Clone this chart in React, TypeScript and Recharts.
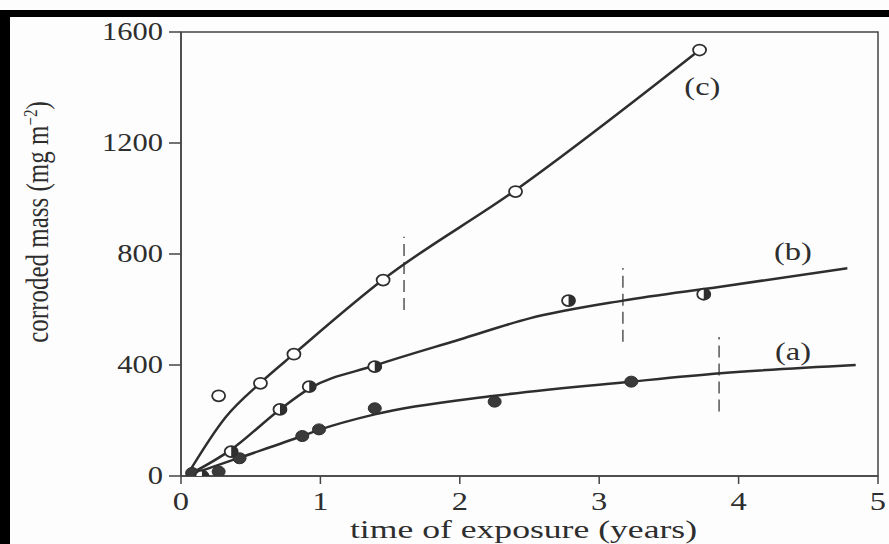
import React from 'react';
import {
  ComposedChart,
  Line,
  Scatter,
  XAxis,
  YAxis,
  ReferenceArea,
  ReferenceLine,
} from 'recharts';

// fitted curves (years, mg m^-2)
const curveA = [
  { x: 0.04, y: 0 }, { x: 0.42, y: 66 }, { x: 0.87, y: 144 }, { x: 0.99, y: 166 },
  { x: 1.39, y: 222 }, { x: 2.25, y: 289 }, { x: 3.23, y: 340 }, { x: 3.87, y: 370 },
  { x: 4.84, y: 400 },
];
const curveB = [
  { x: 0.04, y: 0 }, { x: 0.36, y: 95 }, { x: 0.71, y: 240 }, { x: 0.92, y: 315 },
  { x: 1.39, y: 398 }, { x: 2.0, y: 492 }, { x: 2.5, y: 568 }, { x: 3.17, y: 632 },
  { x: 3.87, y: 682 }, { x: 4.78, y: 749 },
];
const curveC = [
  { x: 0.04, y: 0 }, { x: 0.32, y: 212 }, { x: 0.57, y: 336 }, { x: 0.81, y: 440 },
  { x: 1.45, y: 708 }, { x: 2.4, y: 1030 }, { x: 3.72, y: 1535 },
];

// measured points
const pointsA = [
  { x: 0.08, y: 11 }, { x: 0.27, y: 16 }, { x: 0.42, y: 64 }, { x: 0.87, y: 144 },
  { x: 0.99, y: 168 }, { x: 1.39, y: 244 }, { x: 2.25, y: 268 }, { x: 3.23, y: 340 },
];
const pointsB = [
  { x: 0.15, y: 0 }, { x: 0.36, y: 88 }, { x: 0.71, y: 240 }, { x: 0.92, y: 322 },
  { x: 1.39, y: 394 }, { x: 2.78, y: 632 }, { x: 3.75, y: 655 },
];
const pointsC = [
  { x: 0.27, y: 289 }, { x: 0.57, y: 334 }, { x: 0.81, y: 439 }, { x: 1.45, y: 706 },
  { x: 2.4, y: 1025 }, { x: 3.72, y: 1535 },
];

// dashed markers on each curve
const breaks = [
  { x: 1.6, y1: 598, y2: 862 },
  { x: 3.17, y1: 484, y2: 750 },
  { x: 3.86, y1: 232, y2: 501 },
];

const curveLabels = [
  { x: 3.74, y: 1403, name: '(c)' },
  { x: 4.39, y: 808, name: '(b)' },
  { x: 4.39, y: 448, name: '(a)' },
];

const xTicks = [0, 1, 2, 3, 4, 5];
const yTicks = [0, 400, 800, 1200, 1600];

const FONT = '"Liberation Serif", "DejaVu Serif", serif';
const INK = '#2e2e2e';
const STRETCH = 1.3;

const OpenDot = ({ cx, cy }: any) => (
  <ellipse cx={cx} cy={cy} rx={6.5} ry={5.5} fill="#fff" stroke={INK} strokeWidth={1.8} />
);

const HalfDot = ({ cx, cy }: any) => (
  <g>
    <ellipse cx={cx} cy={cy} rx={6.5} ry={5.5} fill="#fff" stroke={INK} strokeWidth={1.8} />
    <path d={`M ${cx} ${cy - 5.5} A 6.5 5.5 0 0 1 ${cx} ${cy + 5.5} Z`} fill={INK} />
  </g>
);

const FullDot = ({ cx, cy }: any) => (
  <ellipse cx={cx} cy={cy} rx={6.5} ry={5.5} fill="#3a3a3a" stroke={INK} strokeWidth={1} />
);

const CurveLabel = ({ cx, cy, payload }: any) => (
  <g transform={`translate(${cx},${cy}) scale(${STRETCH},1)`}>
    <text textAnchor="middle" y={8} fontFamily={FONT} fontSize={25} fill={INK}>
      {payload.name}
    </text>
  </g>
);

const XTick = ({ x, y, payload }: any) => (
  <g transform={`translate(${x},${y}) scale(${STRETCH},1)`}>
    <text textAnchor="middle" y={24} fontFamily={FONT} fontSize={25} fill={INK}>
      {payload.value}
    </text>
  </g>
);

const YTick = ({ x, y, payload }: any) => (
  <g transform={`translate(${x - 4},${y}) scale(1.22,1)`}>
    <text textAnchor="end" y={8} fontFamily={FONT} fontSize={25} fill={INK}>
      {payload.value}
    </text>
  </g>
);

const XTitle = ({ viewBox }: any) => (
  <g transform={`translate(${viewBox.x + viewBox.width / 2 - 6},${viewBox.y + 62}) scale(1.37,1)`}>
    <text textAnchor="middle" fontFamily={FONT} fontSize={26} fill={INK}>
      time of exposure (years)
    </text>
  </g>
);

const YTitle = () => (
  <g transform={`translate(38,222) rotate(-90) scale(1,${STRETCH})`}>
    <text textAnchor="middle" y={8} fontFamily={FONT} fontSize={25} fill={INK}>
      corroded mass (mg m
      <tspan dy={-9} fontSize={15}>−2</tspan>
      <tspan dy={9}>)</tspan>
    </text>
  </g>
);

export default function App() {
  return (
    <div style={{ position: 'absolute', left: 0, top: 0, width: 889, height: 544, background: '#fdfdfd', overflow: 'hidden' }}>
      <div style={{ position: 'absolute', left: 0, top: 10, width: 889, height: 7, background: '#000' }} />
      <div style={{ position: 'absolute', left: 0, top: 10, width: 10, height: 534, background: '#000' }} />
      <ComposedChart
        width={889}
        height={544}
        margin={{ top: 32, right: 11, bottom: 0, left: 0 }}
        style={{ position: 'absolute', left: 0, top: 0 }}
      >
        <XAxis
          type="number"
          dataKey="x"
          domain={[0, 5]}
          ticks={xTicks}
          height={68}
          tickSize={8}
          stroke="#444"
          strokeWidth={1.5}
          tick={<XTick />}
          label={{ content: <XTitle /> }}
          allowDataOverflow
        />
        <YAxis
          type="number"
          dataKey="y"
          domain={[0, 1600]}
          ticks={yTicks}
          width={181}
          tickSize={12}
          stroke="#444"
          strokeWidth={1.5}
          tick={<YTick />}
          label={{ content: <YTitle /> }}
          allowDataOverflow
        />
        <ReferenceArea x1={0} x2={5} y1={0} y2={1600} fill="none" stroke="#444" strokeWidth={1.5} fillOpacity={0} />
        {breaks.map((b, i) => (
          <ReferenceLine
            key={`brk-${i}`}
            segment={[{ x: b.x, y: b.y1 }, { x: b.x, y: b.y2 }]}
            stroke="#555"
            strokeWidth={1.5}
            strokeDasharray="12 6"
          />
        ))}
        <Line data={curveA} dataKey="y" type="monotone" stroke={INK} strokeWidth={2.5} dot={false} isAnimationActive={false} />
        <Line data={curveB} dataKey="y" type="monotone" stroke={INK} strokeWidth={2.5} dot={false} isAnimationActive={false} />
        <Line data={curveC} dataKey="y" type="monotone" stroke={INK} strokeWidth={2.5} dot={false} isAnimationActive={false} />
        <Scatter data={pointsA} dataKey="y" shape={<FullDot />} isAnimationActive={false} />
        <Scatter data={pointsB} dataKey="y" shape={<HalfDot />} isAnimationActive={false} />
        <Scatter data={pointsC} dataKey="y" shape={<OpenDot />} isAnimationActive={false} />
        <Scatter data={curveLabels} dataKey="y" shape={<CurveLabel />} isAnimationActive={false} />
      </ComposedChart>
    </div>
  );
}
